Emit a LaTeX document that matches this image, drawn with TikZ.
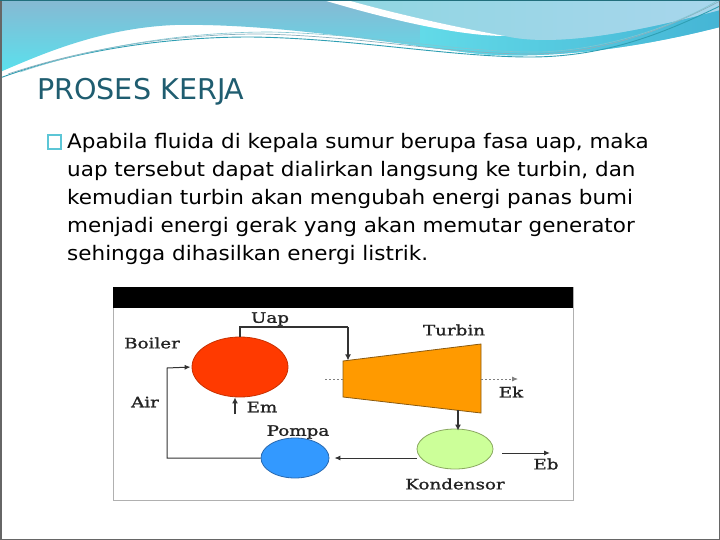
\documentclass[tikz,border=0pt]{standalone}
\usepackage{fontspec}
\usetikzlibrary{shapes.geometric,arrows.meta,calc}
\newfontfamily\bodyfont[FakeStretch=1.075]{DejaVu Sans}
\newfontfamily\titlefont{DejaVu Sans}
\newfontfamily\lblfont[FakeStretch=1.27,FakeBold=1.2]{DejaVu Serif}
\definecolor{titlecol}{HTML}{1F5D70}
\definecolor{bulletcol}{HTML}{5CC6D6}
\definecolor{bandtop}{HTML}{86B9D3}
\definecolor{bandbot}{HTML}{58E2EE}
\definecolor{rleft}{HTML}{90D6E2}
\definecolor{rright}{HTML}{A8D6EC}
\definecolor{sleft}{HTML}{62DAE8}
\definecolor{sright}{HTML}{45B5D5}
\definecolor{wlineA}{HTML}{2F9FB3}
\definecolor{wlineB}{HTML}{8AB0BE}
\definecolor{framecol}{HTML}{B0B0B0}
\definecolor{linecol}{HTML}{333333}
\definecolor{lblcol}{HTML}{222222}
\definecolor{boilercol}{HTML}{FF3A00}
\definecolor{boilerline}{HTML}{C83000}
\definecolor{turbcol}{HTML}{FF9A00}
\definecolor{turbline}{HTML}{8A5A10}
\definecolor{pompacol}{HTML}{3399FF}
\definecolor{pompaline}{HTML}{2A6AB0}
\definecolor{kondcol}{HTML}{CCFF99}
\definecolor{kondline}{HTML}{8AA860}
\begin{document}
\begin{tikzpicture}[x=1pt,y=-1pt,
  conn/.style={draw=linecol, line width=1pt},
  arr/.style={conn, -{Latex[length=6pt,width=5pt]}},
  bigarr/.style={draw=linecol, line width=2.2pt, -{Latex[length=6pt,width=6pt]}},
  dasharr/.style={draw=gray, line width=0.8pt, dash pattern=on 2pt off 2pt},
  lbl/.style={font=\lblfont\fontsize{14.4}{15}\selectfont, text=lblcol, inner sep=0},
  body/.style={font=\bodyfont\fontsize{20}{24}\selectfont, anchor=base west, inner sep=0},
  vessel/.style={ellipse, inner sep=0, line width=0.8pt}]
\useasboundingbox (0,0) rectangle (720,540);
\fill[white] (0,0) rectangle (720,540);
% ---- header wave ----
\def\Cpath{(0,0) -- (720,0) -- (720,27) .. controls (650,45) and (560,60) .. (480,54) .. controls (400,45) and (280,23) .. (175,25) .. controls (100,28) and (40,55) .. (0,72) -- cycle}
\begin{scope}
\clip \Cpath;
\shade[top color=bandtop, bottom color=bandbot] (0,0) rectangle (720,75);
\shade[left color=sleft, right color=sright] (420,22) -- (505,36) .. controls (540,44) and (600,42) .. (720,10) -- (720,70) -- (420,70) -- cycle;
\shade[left color=rleft, right color=rright] (347,0) .. controls (400,15) and (460,28) .. (505,36) .. controls (540,44) and (600,42) .. (720,10) -- (720,0) -- cycle;
\fill[white] (323,0) -- (347,0) .. controls (400,15) and (460,28) .. (505,36) .. controls (460,36) and (390,20) .. (323,0) -- cycle;
\end{scope}
\draw[wlineA, line width=0.9pt] (0,78) .. controls (70,52) and (160,37) .. (250,37) .. controls (350,38) and (450,57) .. (530,57) .. controls (610,57) and (670,30) .. (720,6);
\draw[wlineB, line width=0.7pt] (8,74) .. controls (80,50) and (170,34) .. (260,34) .. controls (360,36) and (450,54) .. (530,54) .. controls (610,54) and (680,22) .. (720,1);
\draw[wlineA!60, line width=0.6pt] (20,72) .. controls (90,48) and (180,32) .. (270,32) .. controls (370,34) and (455,52) .. (535,52) .. controls (615,51) and (690,18) .. (720,-1);
% ---- page border ----
\draw[gray!80!black, line width=1.5pt] (0.75,0.75) rectangle (719.25,539.25);
\draw[wlineA!70!black, line width=1.5pt] (0,0.75) -- (720,0.75);
% ---- title and text ----
\node (title) [anchor=base west, inner sep=0, font=\titlefont\fontsize{28.6}{30}\selectfont, text=titlecol] at (37,100) {PROSES KERJA};
\node (bul) [draw=bulletcol, line width=1.8pt, minimum width=13pt, minimum height=14pt, inner sep=0] at (54.5,142) {};
\node (l1) [body] at (67,149) {Apabila fluida di kepala sumur berupa fasa uap, maka};
\node (l2) [body] at (67,177) {uap tersebut dapat dialirkan langsung ke turbin, dan};
\node (l3) [body] at (67,205) {kemudian turbin akan mengubah energi panas bumi};
\node (l4) [body] at (67,232.5) {menjadi energi gerak yang akan memutar generator};
\node (l5) [body] at (67,260) {sehingga dihasilkan energi listrik.};
% ---- diagram frame ----
\draw[framecol, fill=white, line width=0.8pt] (113,287) rectangle (573,500);
\fill[black] (113,287) rectangle (573,308);
% ---- components ----
\node (boiler) [vessel, fill=boilercol, draw=boilerline, minimum width=96pt, minimum height=60pt] at (240,367) {};
\coordinate (t1) at (343,361);
\coordinate (t2) at (481,344);
\coordinate (t3) at (481,413);
\coordinate (t4) at (343,397);
\draw[fill=turbcol, draw=turbline, line width=0.8pt] (t1) -- (t2) -- (t3) -- (t4) -- cycle;
\node (pompa) [vessel, fill=pompacol, draw=pompaline, minimum width=68pt, minimum height=40pt] at (295,458) {};
\node (kond) [vessel, fill=kondcol, draw=kondline, minimum width=76pt, minimum height=40pt] at (455,449) {};
% ---- coordinates for connectors ----
\coordinate (tin) at (348,360.4);
\coordinate (uapc) at (348,327);
\coordinate (tout) at (458,410.3);
\coordinate (tleft) at (325,379);
\coordinate (tl) at (343,379);
\coordinate (tr) at (481,379);
\coordinate (ekend) at (518,379);
\coordinate (em) at (235,414);
\coordinate (airx) at (167,368);
\coordinate (ebs) at (502,453);
\coordinate (ebe) at (550,453);
% ---- connectors ----
\draw[conn, line width=1.1pt] (boiler.north) |- (uapc);
\draw[conn, line width=1.6pt, -{Latex[length=6pt,width=6pt]}] (uapc) -- (tin);
\draw[bigarr] (em) -- (em |- boiler.south);
\draw[arr, shorten >=1pt] (pompa.west) -| (airx) -- (boiler.west);
\draw[bigarr, line width=2.6pt] (tout) -- ([yshift=-2pt]tout |- kond.north);
\draw[arr, shorten >=5pt] (kond.west |- pompa.east) -- (pompa.east);
\draw[arr] (ebs) -- (ebe);
\draw[dasharr] (tleft) -- (tl);
\draw[dasharr, -{Latex[length=6pt,width=5pt]}] (tr) -- (ekend);
% ---- labels ----
\node (lboiler) [lbl] at (152,343) {Boiler};
\node (luap) [lbl] at (270,319) {Uap};
\node (lturbin) [lbl] at (454,330) {Turbin};
\node (lek) [lbl] at (511,392) {Ek};
\node (lem) [lbl] at (262,407) {Em};
\node (lair) [lbl] at (145,402) {Air};
\node (lpompa) [lbl] at (298,432) {Pompa};
\node (lkond) [lbl] at (455,484) {Kondensor};
\node (leb) [lbl] at (546,464) {Eb};
\end{tikzpicture}
\end{document}
